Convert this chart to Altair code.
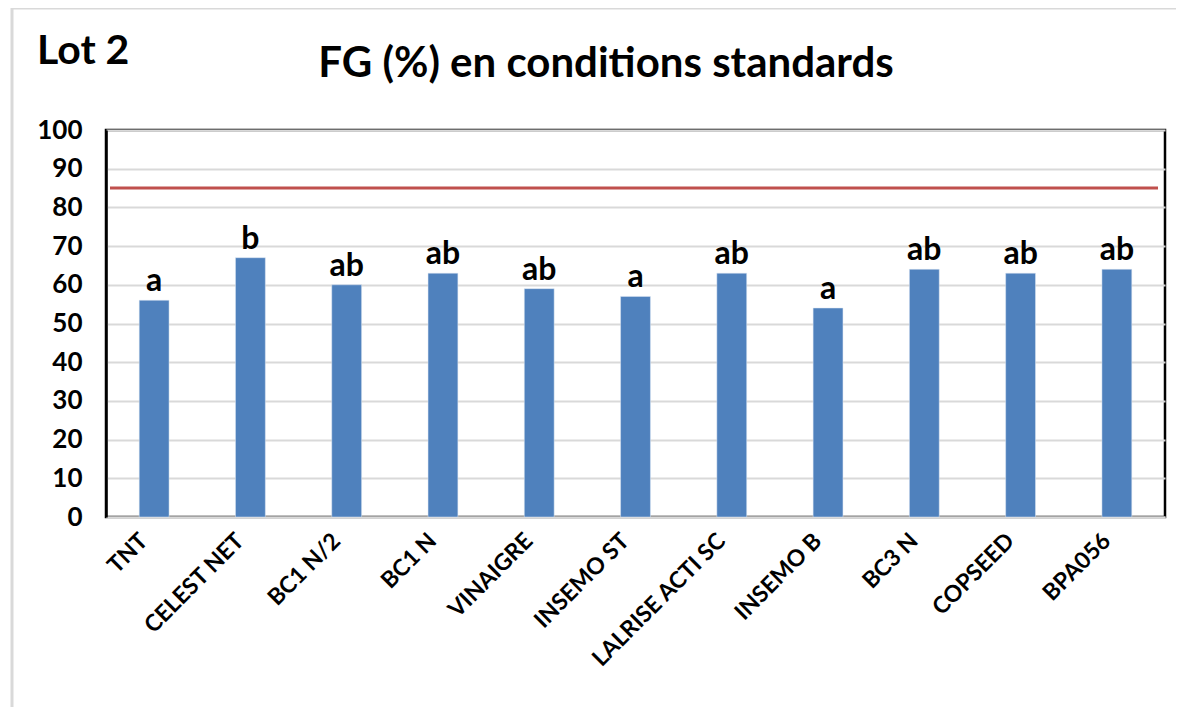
import altair as alt
import pandas as pd

categories = ["TNT", "CELEST NET", "BC1 N/2", "BC1 N", "VINAIGRE", "INSEMO ST",
              "LALRISE ACTI SC", "INSEMO B", "BC3 N", "COPSEED", "BPA056"]
values = [56, 67, 60, 63, 59, 57, 63, 54, 64, 63, 64]
letters = ["a", "b", "ab", "ab", "ab", "a", "ab", "a", "ab", "ab", "ab"]
threshold = [85]
y_ticks = list(range(0, 101, 10))

df = pd.DataFrame({"cat": categories, "val": values, "grp": letters})
FONT = "Lato"

W, H = 1059, 387

xaxis = alt.Axis(labelAngle=-45, labelAlign="right", labelBaseline="middle",
                 labelFont=FONT, labelFontWeight="bold", labelFontSize=23,
                 labelColor="#000000", labelPadding=20, labelOffset=-10,
                 ticks=False, domainColor="#D9D9D9", domainWidth=2,
                 labelLimit=400, labelOverlap=False)
yaxis = alt.Axis(values=y_ticks, labelFont=FONT, labelFontWeight="bold",
                 labelFontSize=26, labelColor="#000000", labelPadding=24,
                 ticks=False, domainColor="#000000", domainWidth=2.5,
                 grid=True, gridColor="#D9D9D9", gridWidth=2, labelOverlap=False)
yscale = alt.Scale(domain=[0, 100], nice=False)
xscale = alt.Scale(paddingInner=0.69, paddingOuter=0.345)

xenc = alt.X("cat:N", sort=categories, title=None, scale=xscale, axis=xaxis)
yenc = alt.Y("val:Q", title=None, scale=yscale, axis=yaxis)

base = alt.Chart(df)

border = alt.Chart(alt.Data(values=[{"k": 1}])).mark_rect(
    fill="#FFFFFF", fillOpacity=0, stroke="#D9D9D9", strokeWidth=3
).encode(x=alt.value(-94), x2=alt.value(1100), y=alt.value(-122), y2=alt.value(620))

bars = base.mark_bar(color="#4F81BD", stroke="#DCE6F2", strokeWidth=0.5).encode(x=xenc, y=yenc)

labels = base.mark_text(font=FONT, fontWeight="bold", fontSize=32, baseline="alphabetic",
                        dy=-9, color="#000000").encode(x=xenc, y=yenc, text="grp:N")

rule = alt.Chart(pd.DataFrame({"t": threshold})).mark_rule(
    color="#C0504D", strokeWidth=3
).encode(y=alt.Y("t:Q", title=None, scale=yscale, axis=yaxis), x=alt.value(4), x2=alt.value(1052))

lot = alt.Chart(alt.Data(values=[{"t": "Lot 2"}])).mark_text(
    font=FONT, fontWeight="bold", fontSize=41, align="left", baseline="alphabetic",
    color="#000000"
).encode(text="t:N", x=alt.value(-69), y=alt.value(-66))

title = alt.Chart(alt.Data(values=[{"t": "FG (%) en conditions standards"}])).mark_text(
    font=FONT, fontWeight="bold", fontSize=42, align="center", baseline="alphabetic",
    color="#000000"
).encode(text="t:N", x=alt.value(500), y=alt.value(-53))

chart = alt.layer(border, bars, rule, labels, lot, title).properties(
    width=W, height=H,
    autosize=alt.AutoSizeParams(type="none"),
    padding={"left": 98, "top": 122, "right": 11, "bottom": 190},
    background="#FFFFFF",
).configure_view(stroke="#000000", strokeWidth=2.5)

chart.save("out.html", embed_options={"renderer": "svg", "actions": False})
